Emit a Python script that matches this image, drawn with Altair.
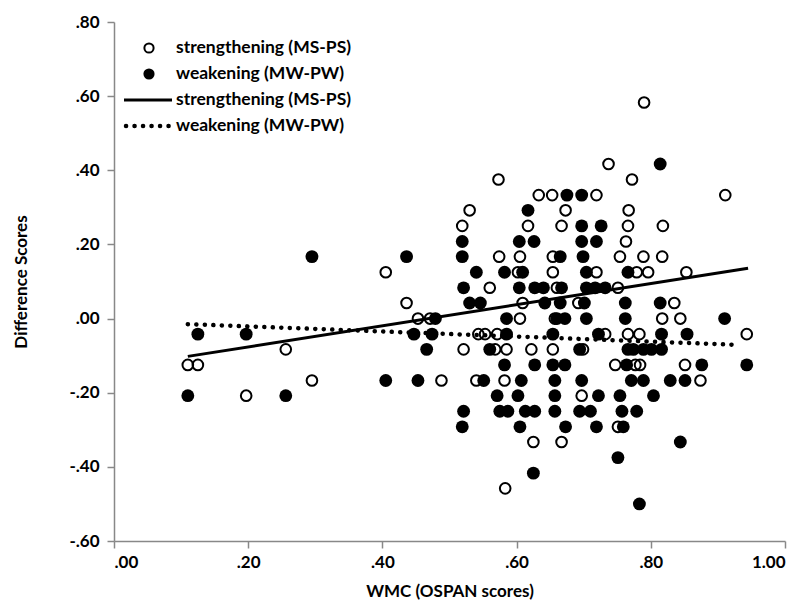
import altair as alt
import pandas as pd

# ---- data ----
open_x = [0.110, 0.125, 0.197, 0.256, 0.295, 0.405, 0.436, 0.453, 0.471, 0.573,
          0.633, 0.653, 0.719, 0.530, 0.673, 0.790, 0.737, 0.772, 0.911, 0.767,
          0.519, 0.617, 0.574, 0.605, 0.602, 0.560, 0.609, 0.605, 0.667, 0.766,
          0.763, 0.654, 0.754, 0.789, 0.779, 0.796, 0.654, 0.719, 0.660, 0.751,
          0.692, 0.657, 0.818, 0.817, 0.853, 0.835, 0.817, 0.844, 0.543, 0.553,
          0.571, 0.568, 0.585, 0.521, 0.622, 0.488, 0.540, 0.582, 0.732, 0.766,
          0.783, 0.654, 0.699, 0.747, 0.777, 0.784, 0.697, 0.943, 0.851, 0.874,
          0.751, 0.625, 0.667, 0.583]
open_y = [-0.125, -0.125, -0.208, -0.083, -0.167, 0.125, 0.042, 0.000, 0.000, 0.375,
          0.333, 0.333, 0.333, 0.292, 0.292, 0.583, 0.417, 0.375, 0.333, 0.292,
          0.250, 0.250, 0.167, 0.167, 0.125, 0.083, 0.042, 0.000, 0.250, 0.250,
          0.208, 0.167, 0.167, 0.167, 0.125, 0.125, 0.125, 0.125, 0.083, 0.083,
          0.042, 0.000, 0.250, 0.167, 0.125, 0.042, 0.000, 0.000, -0.042, -0.042,
          -0.042, -0.083, -0.083, -0.083, -0.083, -0.167, -0.167, -0.167, -0.042, -0.042,
          -0.042, -0.083, -0.083, -0.125, -0.125, -0.125, -0.208, -0.042, -0.125, -0.167,
          -0.292, -0.333, -0.333, -0.458]

filled_x = [0.110, 0.125, 0.197, 0.256, 0.295, 0.405, 0.436, 0.453, 0.447, 0.474,
            0.466, 0.675, 0.697, 0.617, 0.814, 0.519, 0.604, 0.626, 0.519, 0.540,
            0.582, 0.609, 0.521, 0.604, 0.627, 0.530, 0.546, 0.585, 0.479, 0.697,
            0.726, 0.697, 0.719, 0.665, 0.699, 0.766, 0.704, 0.640, 0.667, 0.704,
            0.732, 0.642, 0.665, 0.701, 0.717, 0.660, 0.672, 0.762, 0.762, 0.704,
            0.814, 0.910, 0.585, 0.560, 0.582, 0.627, 0.551, 0.607, 0.571, 0.602,
            0.521, 0.575, 0.613, 0.654, 0.722, 0.694, 0.774, 0.789, 0.766, 0.654,
            0.672, 0.764, 0.657, 0.697, 0.771, 0.789, 0.657, 0.722, 0.754, 0.657,
            0.694, 0.757, 0.779, 0.816, 0.854, 0.816, 0.801, 0.876, 0.943, 0.829,
            0.851, 0.804, 0.587, 0.627, 0.710, 0.519, 0.605, 0.673, 0.719, 0.759,
            0.844, 0.751, 0.625, 0.783]
filled_y = [-0.208, -0.042, -0.042, -0.208, 0.167, -0.167, 0.167, -0.167, -0.042, -0.042,
            -0.083, 0.333, 0.333, 0.292, 0.417, 0.208, 0.208, 0.208, 0.167, 0.125,
            0.125, 0.125, 0.083, 0.083, 0.083, 0.042, 0.042, 0.000, 0.000, 0.250,
            0.250, 0.208, 0.208, 0.167, 0.167, 0.125, 0.125, 0.083, 0.083, 0.083,
            0.083, 0.042, 0.042, 0.042, 0.083, 0.000, 0.000, 0.042, 0.000, 0.000,
            0.042, 0.000, -0.042, -0.083, -0.125, -0.125, -0.167, -0.167, -0.208, -0.208,
            -0.250, -0.250, -0.250, -0.042, -0.042, -0.083, -0.083, -0.083, -0.083, -0.125,
            -0.125, -0.125, -0.167, -0.167, -0.167, -0.167, -0.208, -0.208, -0.208, -0.250,
            -0.250, -0.250, -0.250, -0.042, -0.042, -0.083, -0.083, -0.125, -0.125, -0.167,
            -0.167, -0.208, -0.250, -0.250, -0.250, -0.292, -0.292, -0.292, -0.292, -0.292,
            -0.333, -0.375, -0.417, -0.500]

strong_trend_x = [0.110, 0.945]
strong_trend_y = [-0.102, 0.136]
weak_trend_x = [0.110, 0.930]
weak_trend_y = [-0.015, -0.071]

x_ticks = [0.0, 0.2, 0.4, 0.6, 0.8, 1.0]
y_ticks = [-0.6, -0.4, -0.2, 0.0, 0.2, 0.4, 0.6, 0.8]
legend_labels = ["strengthening (MS-PS)", "weakening (MW-PW)",
                 "strengthening (MS-PS)", "weakening (MW-PW)"]
x_title = "WMC (OSPAN scores)"
y_title = "Difference Scores"

FONT = "Lato"
AXIS_GRAY = "#888888"

open_df = pd.DataFrame({"x": open_x, "y": open_y})
filled_df = pd.DataFrame({"x": filled_x, "y": filled_y})
strong_df = pd.DataFrame({"x": strong_trend_x, "y": strong_trend_y})
weak_df = pd.DataFrame({"x": weak_trend_x, "y": weak_trend_y})

label_expr = ("datum.value >= 1 ? '1.00' : (datum.value < -0.001 ? '-' : '') + "
              "substring(format(abs(datum.value), '.2f'), 1)")

x_enc = alt.X("x:Q",
              scale=alt.Scale(domain=[0, 1], nice=False, zero=False),
              axis=alt.Axis(values=x_ticks, labelExpr=label_expr, grid=False,
                            domainColor=AXIS_GRAY, domainWidth=1.5,
                            tickColor=AXIS_GRAY, tickWidth=1.5, tickSize=7,
                            labelFont=FONT, labelFontWeight="bold", labelFontSize=17,
                            labelColor="#000000", labelPadding=6,
                            title=x_title, titleFont=FONT, titleFontWeight="bold",
                            titleFontSize=17, titleColor="#000000", titlePadding=13))
y_enc = alt.Y("y:Q",
              scale=alt.Scale(domain=[-0.6, 0.8], nice=False, zero=False),
              axis=alt.Axis(values=y_ticks, labelExpr=label_expr, grid=False,
                            domainColor=AXIS_GRAY, domainWidth=1.5,
                            tickColor=AXIS_GRAY, tickWidth=1.5, tickSize=7,
                            labelFont=FONT, labelFontWeight="bold", labelFontSize=17,
                            labelColor="#000000", labelPadding=8,
                            title=y_title, titleFont=FONT, titleFontWeight="bold",
                            titleFontSize=17, titleColor="#000000", titlePadding=38))

open_pts = alt.Chart(open_df).mark_point(
    shape="circle", filled=False, stroke="black", strokeWidth=2, size=113, opacity=1
).encode(x=x_enc, y=y_enc)

filled_pts = alt.Chart(filled_df).mark_circle(
    color="black", size=165, opacity=1
).encode(x="x:Q", y="y:Q")

strong_line = alt.Chart(strong_df).mark_line(
    color="black", strokeWidth=3
).encode(x="x:Q", y="y:Q")

weak_line = alt.Chart(weak_df).mark_line(
    color="black", strokeWidth=4.5, strokeDash=[0.1, 8.4], strokeCap="round"
).encode(x="x:Q", y="y:Q")

# ---- legend (top-left, inside the plot) ----
leg_rows = [26, 52, 78, 104]
leg_sym_x = 35
leg_text_x = 62

def leg_df(i):
    return pd.DataFrame({"label": [legend_labels[i]]})

leg_open = alt.Chart(leg_df(0)).mark_point(
    shape="circle", filled=False, stroke="black", strokeWidth=2, size=85, opacity=1
).encode(x=alt.value(leg_sym_x), y=alt.value(leg_rows[0]))
leg_filled = alt.Chart(leg_df(1)).mark_circle(
    color="black", size=125, opacity=1
).encode(x=alt.value(leg_sym_x), y=alt.value(leg_rows[1]))
leg_solid = alt.Chart(leg_df(2)).mark_rule(
    color="black", strokeWidth=3
).encode(x=alt.value(10), x2=alt.value(58), y=alt.value(leg_rows[2]))
leg_dotted = alt.Chart(leg_df(3)).mark_rule(
    color="black", strokeWidth=4.5, strokeDash=[0.1, 8.4], strokeCap="round"
).encode(x=alt.value(12), x2=alt.value(58), y=alt.value(leg_rows[3]))

leg_texts = [
    alt.Chart(leg_df(i)).mark_text(
        align="left", baseline="middle", font=FONT, fontWeight="bold",
        fontSize=17.5, color="black"
    ).encode(x=alt.value(leg_text_x), y=alt.value(leg_rows[i]), text="label:N")
    for i in range(4)
]

chart = alt.layer(
    open_pts, filled_pts, strong_line, weak_line,
    leg_open, leg_filled, leg_solid, leg_dotted, *leg_texts
).properties(
    width=671, height=519,
    padding={"left": 106, "top": 14, "right": 19, "bottom": 72},
    autosize=alt.AutoSizeParams(type="none"),
    background="white",
).configure_view(stroke=None)

chart.save("out.html", embed_options={"renderer": "svg", "actions": False})
